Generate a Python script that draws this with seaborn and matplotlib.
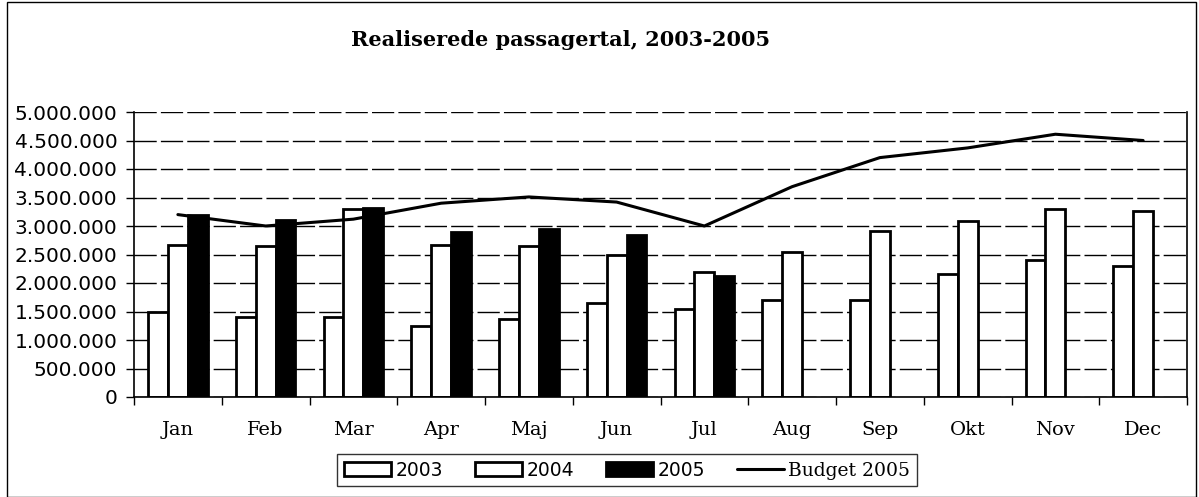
import matplotlib
matplotlib.use("Agg")
import matplotlib.pyplot as plt
import matplotlib.ticker as mticker
from matplotlib.patches import Rectangle
import seaborn as sns
import pandas as pd
import numpy as np

months = ["Jan", "Feb", "Mar", "Apr", "Maj", "Jun", "Jul", "Aug", "Sep", "Okt", "Nov", "Dec"]
v2003 = [1500000, 1410000, 1400000, 1250000, 1360000, 1650000, 1550000, 1700000, 1700000, 2150000, 2400000, 2300000]
v2004 = [2660000, 2650000, 3300000, 2670000, 2650000, 2490000, 2200000, 2540000, 2920000, 3090000, 3300000, 3270000]
v2005 = [3200000, 3100000, 3320000, 2900000, 2950000, 2850000, 2120000, None, None, None, None, None]
budget = [3200000, 3000000, 3120000, 3400000, 3510000, 3420000, 3000000, 3690000, 4200000, 4370000, 4610000, 4500000]
years = ["2003", "2004", "2005"]

rows = []
for yr, vals in zip(years, [v2003, v2004, v2005]):
    for m, v in zip(months, vals):
        if v is not None:
            rows.append({"month": m, "year": yr, "value": v})
df = pd.DataFrame(rows)

sns.set_theme(style="white")
plt.rcParams["font.family"] = ["DejaVu Sans"]
plt.rcParams["text.color"] = "black"
plt.rcParams["xtick.color"] = "black"
plt.rcParams["ytick.color"] = "black"
plt.rcParams["xtick.labelcolor"] = "black"
plt.rcParams["ytick.labelcolor"] = "black"

fig = plt.figure(figsize=(11.99, 4.97), dpi=100)
ax = fig.add_axes([134 / 1199, 1 - 397 / 497, (1187 - 134) / 1199, (397 - 112) / 497])

sns.barplot(data=df, x="month", y="value", hue="year", order=months, hue_order=years,
            palette={"2003": "white", "2004": "white", "2005": "black"},
            edgecolor="black", linewidth=2, width=0.68, ax=ax, saturation=1,
            legend=True, errorbar=None)

x = np.arange(len(months))
ax.plot(x, budget, color="black", linewidth=2.2, label="Budget 2005", zorder=5)

ax.set_xlim(-0.5, 11.5)
ax.set_ylim(0, 5000000)
ax.yaxis.set_major_locator(mticker.MultipleLocator(500000))
ax.yaxis.set_major_formatter(mticker.FuncFormatter(lambda v, p: f"{int(v):,}".replace(",", ".")))
ax.grid(axis="y", color="black", linestyle=(0, (16, 3)), linewidth=1)
ax.set_axisbelow(True)
ax.set_xlabel("")
ax.set_ylabel("")

for s in ax.spines.values():
    s.set_color("black")
    s.set_linewidth(1.2)
ax.spines["top"].set_visible(False)

ax.tick_params(axis="y", which="major", length=6, width=1, color="black", direction="out",
               labelsize=14.5, pad=6, left=True, labelcolor="black")
ax.tick_params(axis="x", which="major", length=0, labelsize=14, pad=17, labelcolor="black")
for lab in ax.get_xticklabels():
    lab.set_fontfamily("DejaVu Serif")
ax.xaxis.set_minor_locator(mticker.FixedLocator(np.arange(-0.5, 12, 1)))
ax.tick_params(axis="x", which="minor", length=6, width=1, color="black", direction="out", bottom=True)

handles, labels = ax.get_legend_handles_labels()
ax.get_legend().remove()
leg = fig.legend(handles, labels, loc="center", bbox_to_anchor=(627 / 1199, 1 - 470 / 497), ncol=4,
                 frameon=True, fancybox=False, edgecolor="black", fontsize=13.5,
                 handlelength=2.5, handleheight=0.7, handletextpad=0.25, columnspacing=1.7,
                 borderpad=0.35)
leg.get_frame().set_linewidth(1)
for t in leg.get_texts():
    t.set_color("black")
leg.get_texts()[3].set_fontfamily("DejaVu Serif")

fig.text(561 / 1199, 1 - 40 / 497, "Realiserede passagertal, 2003-2005", ha="center", va="center",
         fontsize=15, fontweight="bold", family="DejaVu Serif", color="black")

fig.patches.append(Rectangle((7 / 1199, 0.0), 1189 / 1199, 0.995, transform=fig.transFigure,
                             fill=False, edgecolor="black", linewidth=1))

fig.savefig("out.png", dpi=100, facecolor="white")
